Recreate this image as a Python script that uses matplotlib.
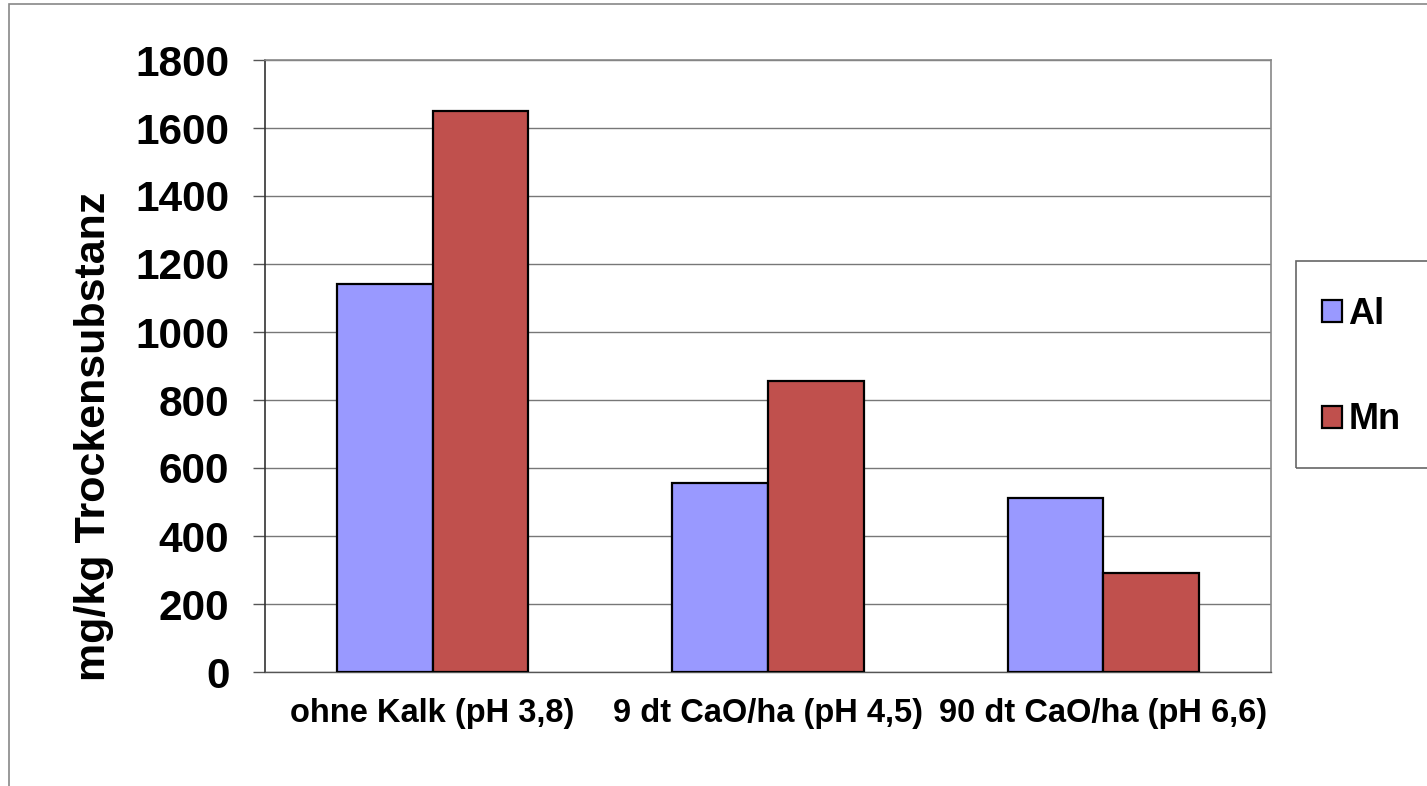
import matplotlib

matplotlib.use("Agg")
import matplotlib.pyplot as plt
import numpy as np
from matplotlib.patches import Rectangle

plt.rcParams["font.family"] = ["Liberation Sans", "DejaVu Sans"]
plt.rcParams["font.weight"] = "bold"

categories = ["ohne Kalk (pH 3,8)", "9 dt CaO/ha (pH 4,5)", "90 dt CaO/ha (pH 6,6)"]
al_values = [1140, 556, 512]
mn_values = [1650, 856, 290]
y_ticks = [0, 200, 400, 600, 800, 1000, 1200, 1400, 1600, 1800]

AL_COLOR = "#9999FF"
MN_COLOR = "#C0504D"

W, H = 1427, 786
fig = plt.figure(figsize=(W / 100, H / 100), dpi=100)


def px_box(x0, y0, x1, y1, **kw):
    """Rectangle given in pixel coords measured from the top-left corner."""
    return Rectangle((x0 / W, 1 - y1 / H), (x1 - x0) / W, (y1 - y0) / H,
                     transform=fig.transFigure, fill=False, **kw)


# outer chart frame (only top and left edges fall inside the image)
fig.patches.append(px_box(9, 4, W + 50, H + 50, edgecolor="#888888", linewidth=1.2))
# legend frame
fig.patches.append(px_box(1296, 261, W + 50, 468, edgecolor="#666666", linewidth=1.2))

ax = fig.add_axes([265 / W, 1 - 672 / H, (1271 - 265) / W, (672 - 60) / H])

x = np.arange(len(categories))
w = 1 / 3.5
ax.bar(x - w / 2, al_values, w, color=AL_COLOR, edgecolor="black",
       linewidth=1.6, label="Al", zorder=3)
ax.bar(x + w / 2, mn_values, w, color=MN_COLOR, edgecolor="black",
       linewidth=1.6, label="Mn", zorder=3)

ax.set_xlim(-0.5, len(categories) - 0.5)
ax.set_ylim(0, 1800)
ax.set_yticks(y_ticks)
ax.set_yticklabels([str(v) for v in y_ticks], fontsize=30.5, fontweight="bold")
ax.set_xticks(x)
ax.set_xticklabels(categories, fontsize=23.5, fontweight="bold")
ax.tick_params(axis="x", length=0, pad=19)
ax.tick_params(axis="y", direction="out", length=8.6, width=1, color="#555555", pad=17)
ax.yaxis.grid(True, color="#777777", linewidth=1, zorder=0)
ax.set_axisbelow(True)

for side in ["top", "right"]:
    ax.spines[side].set_color("#888888")
    ax.spines[side].set_linewidth(1.2)
ax.spines["left"].set_color("#333333")
ax.spines["left"].set_linewidth(1.2)
ax.spines["bottom"].set_color("#555555")
ax.spines["bottom"].set_linewidth(1)

fig.text(94 / W, 1 - 436 / H, "mg/kg Trockensubstanz", rotation=90,
         ha="center", va="center", fontsize=31, fontweight="bold")

fig.legend(loc="upper left", bbox_to_anchor=(1322 / W, 1 - 297 / H),
           bbox_transform=fig.transFigure,
           prop={"weight": "bold", "size": 26}, frameon=False,
           handlelength=0.55, handleheight=0.55, handletextpad=0.18,
           labelspacing=1.95, borderpad=0, borderaxespad=0)

fig.savefig("out.png", dpi=100, facecolor="white")
